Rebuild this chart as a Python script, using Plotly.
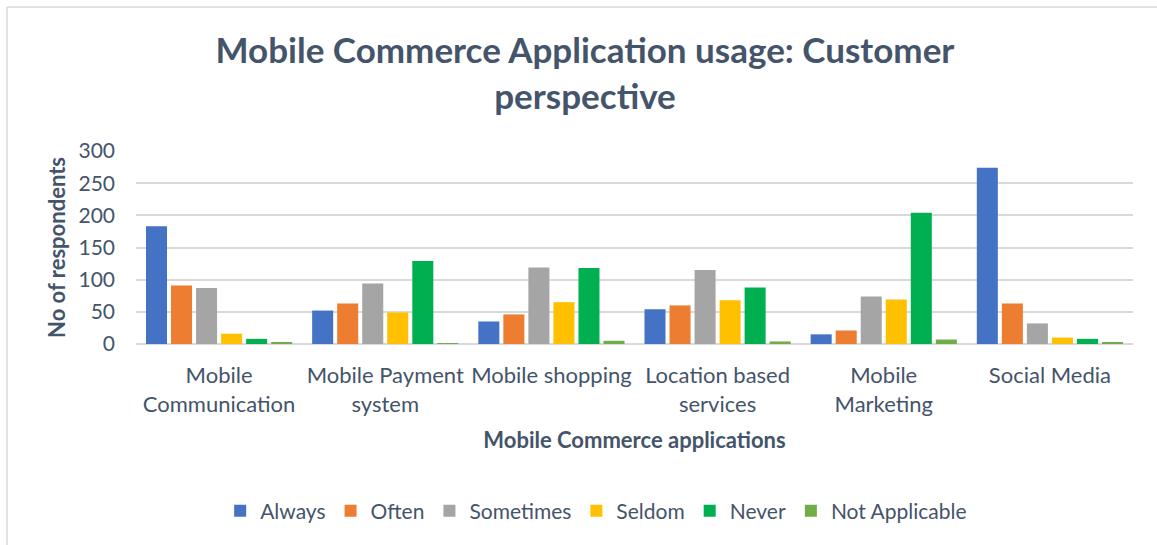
import plotly.graph_objects as go

# Survey responses per mobile commerce application
categories = [
    "Mobile<br>Communication",
    "Mobile Payment<br>system",
    "Mobile shopping",
    "Location based<br>services",
    "Mobile<br>Marketing",
    "Social Media",
]
always = [183, 52, 35, 54, 15, 274]
often = [91, 63, 46, 60, 21, 63]
sometimes = [87, 94, 119, 115, 74, 32]
seldom = [16, 49, 65, 68, 69, 10]
never = [8, 129, 118, 88, 204, 8]
not_applicable = [2, 1, 5, 4, 7, 2]

series_names = ["Always", "Often", "Sometimes", "Seldom", "Never", "Not Applicable"]
series_values = [always, often, sometimes, seldom, never, not_applicable]
series_colors = ["#4472C4", "#ED7D31", "#A5A5A5", "#FFC000", "#00B050", "#70AD47"]

y_ticks = [0, 50, 100, 150, 200, 250, 300]

TEXT = "#44546A"
FONT = "Lato"
W, H = 1157, 545
L, R, T, B = 136, 24, 151, 201

fig = go.Figure()
for name, vals, col in zip(series_names, series_values, series_colors):
    fig.add_trace(go.Bar(
        name=name, x=categories, y=vals,
        marker=dict(color=col, line=dict(width=0)),
    ))

pw = W - L - R
ph = H - T - B

def px(x):
    return (x - L) / pw

def py(y):
    return (H - B - y) / ph

fig.update_layout(
    width=W, height=H,
    margin=dict(l=L, r=R, t=T, b=B),
    paper_bgcolor="white", plot_bgcolor="white",
    font=dict(family=FONT, color=TEXT, size=20),
    barmode="group", bargap=0.096, bargroupgap=0.16,
    title=dict(
        text="<b>Mobile Commerce Application usage: Customer<br>perspective</b>",
        font=dict(family=FONT, size=35, color=TEXT),
        x=585 / W, xref="container", xanchor="center",
        y=1 - 63 / H, yref="container", yanchor="middle",
    ),
    xaxis=dict(
        showgrid=False, showline=False, zeroline=False,
        ticks="", tickfont=dict(size=22, color=TEXT),
        ticklabelstandoff=16,
        title=dict(text="<b>Mobile Commerce applications</b>",
                   font=dict(size=22, color=TEXT), standoff=17),
    ),
    yaxis=dict(
        range=[0, 300], tickvals=y_ticks,
        showgrid=True, gridcolor="#D9D9D9", gridwidth=1.5,
        zeroline=True, zerolinecolor="#D9D9D9", zerolinewidth=1.5,
        showline=False, ticks="", ticklen=0,
        tickfont=dict(size=21, color=TEXT),
        ticklabelstandoff=20,
        title=dict(text="<b>No of respondents</b>",
                   font=dict(size=22, color=TEXT), standoff=6),
    ),
    legend=dict(
        orientation="h", x=534 / W, xanchor="center",
        y=py(511), yanchor="middle",
        font=dict(size=21, color=TEXT),
        itemwidth=30, traceorder="normal",
    ),
    shapes=[
        dict(type="line", xref="paper", yref="paper",
             x0=px(7), x1=px(W + 5), y0=py(7), y1=py(7),
             line=dict(color="#D9D9D9", width=1.5)),
        dict(type="line", xref="paper", yref="paper",
             x0=px(7), x1=px(7), y0=py(7), y1=py(H + 5),
             line=dict(color="#D9D9D9", width=1.5)),
    ],
)

fig.write_html("out.html")
